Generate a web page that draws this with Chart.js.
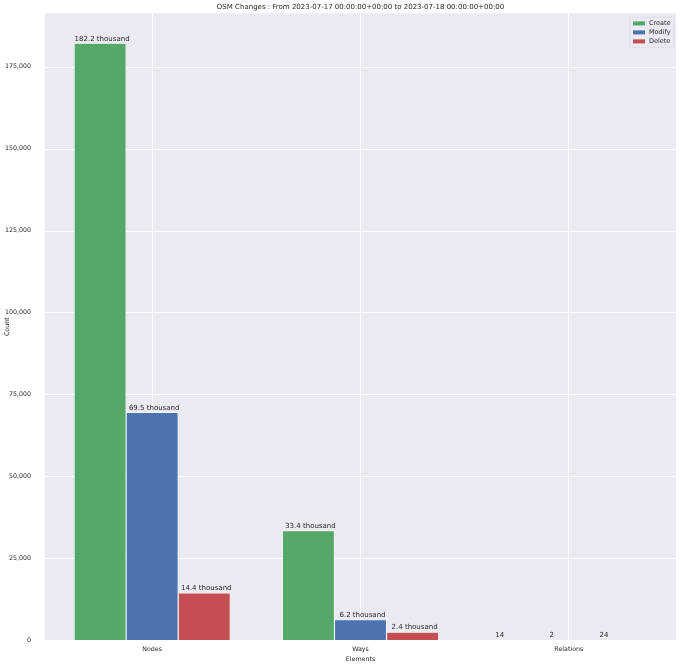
<!DOCTYPE html>
<html>
<head>
<meta charset="utf-8">
<script src="https://cdn.jsdelivr.net/npm/chart.js@4"></script>
<style>
  body { margin: 0; background: #ffffff; }
  #wrap { width: 680px; height: 666px; }
</style>
</head>
<body>
<div id="wrap"><canvas id="osm" width="680" height="666"></canvas></div>
<script>
const categories = ["Nodes", "Ways", "Relations"]
const create_vals = [182200, 33400, 14]
const modify_vals = [69500, 6200, 2]
const delete_vals = [14400, 2400, 24]
const y_ticks = [0, 25000, 50000, 75000, 100000, 125000, 150000, 175000]

const fmt_label = (v)=>{
    if(v >= 1000){
        return (v/1000).toFixed(1) + " thousand"
    }
    return String(v)
}

// axes margin, the background goes a bit past the category bins
const EXTRA = 3

// plot background + horizontal grid
const bg_plugin = {
    id: "bg",
    beforeDraw: (chart)=>{
        const a = chart.chartArea
        const c = chart.ctx
        const y = chart.scales.y
        c.save()
        c.fillStyle = "#EAEAF2"
        c.fillRect(a.left - EXTRA, a.top, a.right - a.left + 2*EXTRA, a.bottom - a.top)
        c.strokeStyle = "#ffffff"
        c.lineWidth = 1
        for(let i in y_ticks){
            const py = Math.round(y.getPixelForValue(y_ticks[i])) + 0.5
            c.beginPath()
            c.moveTo(a.left - EXTRA, py)
            c.lineTo(a.right + EXTRA, py)
            c.stroke()
        }
        c.restore()
    }
}

// value labels above bars
const label_plugin = {
    id: "labels",
    afterDatasetsDraw: (chart)=>{
        const c = chart.ctx
        c.save()
        c.font = "7px 'DejaVu Sans'"
        c.fillStyle = "#262626"
        c.textAlign = "center"
        c.textBaseline = "bottom"
        chart.data.datasets.forEach((ds, i)=>{
            const meta = chart.getDatasetMeta(i)
            meta.data.forEach((bar, j)=>{
                const v = ds.data[j]
                const dx = v >= 1000 ? 2 : -17
                c.fillText(fmt_label(v), bar.x + dx, bar.y - 1)
            })
        })
        c.restore()
    }
}

// legend inside top right corner
const legend_plugin = {
    id: "inlegend",
    afterDraw: (chart)=>{
        const a = chart.chartArea
        const c = chart.ctx
        const w = 44
        const h = 30
        const x0 = a.right + EXTRA - w - 2
        const y0 = a.top + 4
        c.save()
        c.fillStyle = "rgba(234,234,242,0.8)"
        c.strokeStyle = "#dcdce4"
        c.lineWidth = 0.8
        c.beginPath()
        c.roundRect(x0, y0, w, h, 2)
        c.fill()
        c.stroke()
        c.font = "6.5px 'DejaVu Sans'"
        c.textBaseline = "middle"
        chart.data.datasets.forEach((ds, i)=>{
            const yy = y0 + 6 + i * 9
            c.fillStyle = ds.backgroundColor
            c.fillRect(x0 + 3, yy - 2, 12, 4)
            c.fillStyle = "#262626"
            c.fillText(ds.label, x0 + 19, yy)
        })
        c.restore()
    }
}

const ctx = document.getElementById("osm").getContext("2d")
const osm_chart = new Chart(ctx, {
    type: "bar",
    data: {
        labels: categories,
        datasets: [
            { label: "Create", data: create_vals, backgroundColor: "#55A868" },
            { label: "Modify", data: modify_vals, backgroundColor: "#4C72B0" },
            { label: "Delete", data: delete_vals, backgroundColor: "#C44E52" }
        ]
    },
    options: {
        responsive: false,
        animation: false,
        devicePixelRatio: 1,
        datasets: {
            bar: {
                categoryPercentage: 0.75,
                barPercentage: 1.0,
                borderColor: "#ffffff",
                borderWidth: 0.6,
                borderSkipped: "bottom"
            }
        },
        layout: { padding: { left: 0, right: 7, top: 0, bottom: 0 } },
        plugins: {
            legend: { display: false },
            tooltip: { enabled: false },
            title: {
                display: true,
                fullSize: false,
                text: "OSM Changes : From 2023-07-17 00:00:00+00:00 to 2023-07-18 00:00:00+00:00",
                color: "#262626",
                font: { family: "'DejaVu Sans'", size: 7, weight: "normal" },
                padding: { top: 3, bottom: 2 }
            }
        },
        scales: {
            x: {
                grid: { color: "#ffffff", lineWidth: 1, offset: false, drawTicks: false },
                border: { display: false },
                ticks: {
                    color: "#262626",
                    padding: 6,
                    font: { family: "'DejaVu Sans'", size: 6.3 }
                },
                title: {
                    display: true,
                    text: "Elements",
                    color: "#262626",
                    padding: { top: 1, bottom: 3 },
                    font: { family: "'DejaVu Sans'", size: 6.3 }
                },
                afterFit: (scale)=>{ scale.height = 26 }
            },
            y: {
                min: 0,
                max: 191310,
                grid: { display: false },
                border: { display: false },
                afterBuildTicks: (scale)=>{
                    scale.ticks = y_ticks.map((v)=>({ value: v }))
                },
                ticks: {
                    color: "#262626",
                    padding: 9,
                    font: { family: "'DejaVu Sans'", size: 6.3 },
                    callback: (v)=> v.toLocaleString("en-US")
                },
                title: {
                    display: true,
                    text: "Count",
                    color: "#262626",
                    padding: { top: 4, bottom: 0 },
                    font: { family: "'DejaVu Sans'", size: 6.3 }
                },
                afterFit: (scale)=>{ scale.width = 48 }
            }
        }
    },
    plugins: [bg_plugin, label_plugin, legend_plugin]
})
</script>
</body>
</html>
